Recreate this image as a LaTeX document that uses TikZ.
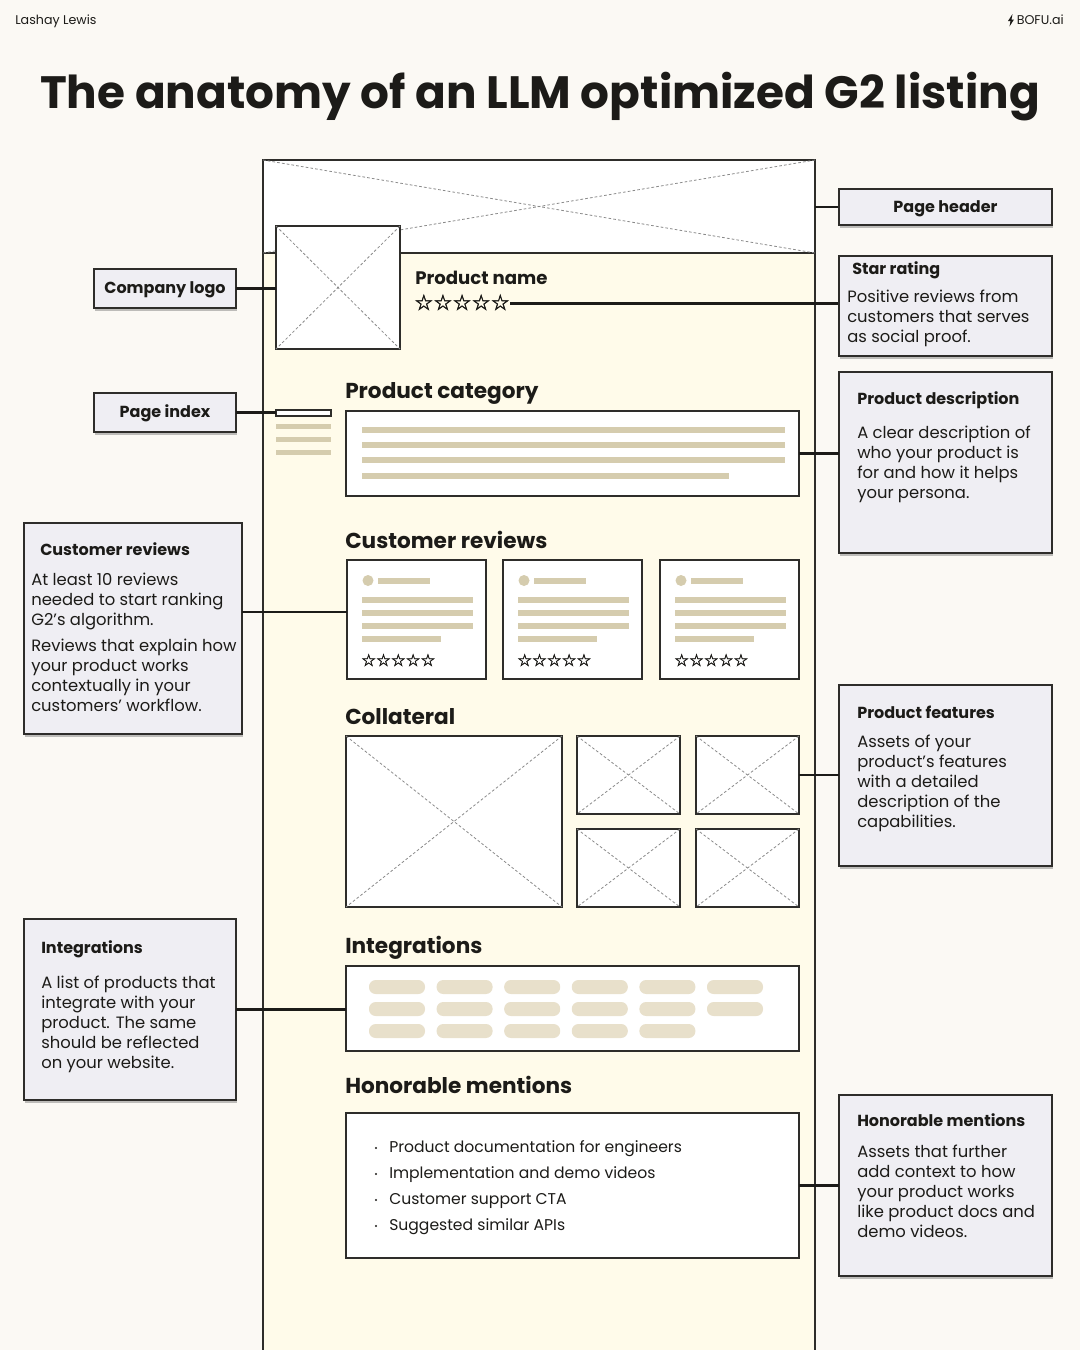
\documentclass[tikz,border=0pt]{standalone}
\usepackage{fontspec}
\setmainfont{Poppins}
\newfontfamily\symfont[FakeBold=2.2]{DejaVu Sans}
\usetikzlibrary{shadows}
\definecolor{bg}{HTML}{FBF9F4}
\definecolor{pagebg}{HTML}{FFFBEA}
\definecolor{callbg}{HTML}{EFEEF3}
\definecolor{tanbar}{HTML}{D5CCAE}
\definecolor{pillc}{HTML}{E8E0CB}
\definecolor{ink}{HTML}{1C1B18}
\definecolor{edge}{HTML}{2E2D2A}
\definecolor{xgray}{HTML}{8A8A8A}
\newcommand\pbox[6]{\node[#2, anchor=north west, minimum width={(#5-#3)*0.75pt}, minimum height={(#6-#4)*0.75pt}] (#1) at (#3,#4) {};}
\newcommand\xcross[1]{\draw[xline] (#1.north west) -- (#1.south east) (#1.north east) -- (#1.south west);}
\newcommand\tlines[6]{\foreach \l [count=\i] in {#6} {\node[#2, anchor=base west] (#1\i) at (#3,{#4+(\i-1)*#5}) {\l};}}
\tikzset{
  wbox/.style={draw=edge, fill=white, line width=1pt, inner sep=0pt, outer sep=0pt},
  callout/.style={draw=edge, fill=callbg, line width=1pt, inner sep=0pt, outer sep=0pt,
     drop shadow={shadow xshift=0.6pt, shadow yshift=-2pt, opacity=0.35, fill=black!70}},
  xline/.style={draw=xgray, dash pattern=on 2pt off 1.6pt, line width=0.6pt},
  conn/.style={draw=ink, line width=2pt},
  ctitle/.style={font=\fontsize{12}{14}\selectfont\bfseries, text=ink, inner sep=0pt},
  cbody/.style={font=\fontsize{12.3}{15}\selectfont, text=ink, inner sep=0pt},
  head/.style={font=\fontsize{16.2}{20}\selectfont\bfseries, text=ink, inner sep=0pt},
  small/.style={font=\fontsize{9.5}{11}\selectfont, text=ink, inner sep=0pt},
  stars/.style={font=\symfont\fontsize{12.4}{13}\selectfont, text=ink, inner sep=0pt},
  listtxt/.style={font=\fontsize{11.7}{14}\selectfont, text=ink, inner sep=0pt},
}
\begin{document}
\begin{tikzpicture}[x=0.75pt,y=-0.75pt]
\useasboundingbox (0,0) rectangle (1080,1350);
\fill[bg] (0,0) rectangle (1080,1350);

% top texts
\node[small, anchor=base west] (author) at (15,24) {Lashay Lewis};
\node[small, anchor=base east] (brand) at (1064,24) {BOFU.ai};
\fill[ink] (1008,21) -- (1012.5,14) -- (1011.5,19.5) -- (1014,19.5) -- (1009.5,26.5) -- (1010.5,21) -- cycle;

% title
\node[font=\fontsize{34}{40}\selectfont\bfseries, text=ink, inner sep=0pt, anchor=center] (title) at (540,97) {The anatomy of an LLM optimized G2 listing};

% page frame
\pbox{page}{draw=edge, fill=pagebg, line width=1pt, inner sep=0pt, outer sep=0pt}{263}{160}{815}{1360}
\pbox{hdr}{wbox}{263}{160}{815}{253}
\xcross{hdr}

% logo
\pbox{logo}{wbox}{276}{226}{400}{349}
\xcross{logo}

% product name
\node[font=\fontsize{13.6}{16}\selectfont\bfseries, text=ink, inner sep=0pt, anchor=base west] (pname) at (415,284) {Product name};
\node[stars, font=\symfont\fontsize{16}{17}\selectfont, anchor=base west] (pstars) at (414,310) {☆☆☆☆☆};

% page index
\pbox{idx}{draw=edge, fill=white, line width=0.8pt, inner sep=0pt, outer sep=0pt}{276}{410}{331}{416}
\foreach \yy in {424,437,450} \fill[tanbar] (276,\yy) rectangle (331,\yy+5);

% product category
\node[head, anchor=base west] (hcat) at (345,398) {Product category};
\pbox{cat}{wbox}{346}{411}{799}{496}
\foreach \yy in {427,442,457} \fill[tanbar] (362,\yy) rectangle (785,\yy+6);
\fill[tanbar] (362,473) rectangle (729,479);

% customer reviews
\node[head, anchor=base west] (hrev) at (345,548) {Customer reviews};
\foreach \xx [count=\k] in {347,503,660} {
  \pbox{rev\k}{wbox}{\xx}{560}{\xx+139}{679}
  \fill[tanbar] (\xx+21,580.5) circle (5.5);
  \fill[tanbar] (\xx+31,578) rectangle (\xx+83,584);
  \foreach \yy in {597,610,623} \fill[tanbar] (\xx+15,\yy) rectangle (\xx+126,\yy+6);
  \fill[tanbar] (\xx+15,636) rectangle (\xx+94,642);
  \node[stars, anchor=base west] (rs\k) at (\xx+14,666) {☆☆☆☆☆};
}

% collateral
\node[head, anchor=base west] (hcol) at (345,724) {Collateral};
\pbox{col0}{wbox}{346}{736}{562}{907}
\pbox{col1}{wbox}{577}{736}{680}{814}
\pbox{col2}{wbox}{696}{736}{799}{814}
\pbox{col3}{wbox}{577}{829}{680}{907}
\pbox{col4}{wbox}{696}{829}{799}{907}
\foreach \c in {col0,col1,col2,col3,col4} {\xcross{\c}}

% integrations
\node[head, anchor=base west] (hint) at (345,953) {Integrations};
\pbox{intbox}{wbox}{346}{966}{799}{1051}
\foreach \yy/\n in {987/6,1009/6,1031/5} {
  \foreach \j in {1,...,\n} {
    \fill[pillc, rounded corners=5pt] ({369+(\j-1)*67.6},\yy-7) rectangle ({425+(\j-1)*67.6},\yy+7);
  }
}

% honorable mentions
\node[head, anchor=base west] (hhon) at (345,1093) {Honorable mentions};
\pbox{honbox}{wbox}{346}{1113}{799}{1258}
\foreach \t [count=\i] in {Product documentation for engineers, Implementation and demo videos, Customer support CTA, Suggested similar APIs} {
  \node[listtxt, anchor=base west] (hl\i) at (389,{1152+(\i-1)*26}) {\t};
  \fill[ink] (376,{1148+(\i-1)*26}) circle (1.2);
}

% connectors
\coordinate (crl) at ([yshift=5.6pt]rev1.west);
\draw[conn] (hdr.east |- 0,207) -- (839,207);
\pbox{cphdr}{callout}{839}{189}{1052}{225}
\draw[conn] ([yshift=-1pt]pstars.east) -- ([yshift=-1pt]pstars.east -| 839,0);
\pbox{cstar}{callout}{839}{256}{1052}{356}
\pbox{ccl}{callout}{94}{269}{236}{308}
\draw[conn] (ccl.east) -- (ccl.east -| logo.west);
\pbox{cpi}{callout}{94}{393}{236}{432}
\draw[conn] (cpi.east) -- (cpi.east -| idx.west);
\pbox{cdesc}{callout}{839}{372}{1052}{553}
\draw[conn] (cat.east) -- (cat.east -| cdesc.west);
\pbox{ccr}{callout}{24}{523}{242}{734}
\draw[conn] (crl -| ccr.east) -- (crl);
\pbox{cfeat}{callout}{839}{685}{1052}{866}
\draw[conn] (col2.east) -- (col2.east -| cfeat.west);
\pbox{cint}{callout}{24}{919}{236}{1100}
\draw[conn] (cint.east) -- (cint.east -| intbox.west);
\pbox{chon}{callout}{839}{1095}{1052}{1276}
\draw[conn] (honbox.east) -- (honbox.east -| chon.west);

% callout texts
\node[ctitle, anchor=base] (tphdr) at ([yshift=-4pt]cphdr.center) {Page header};
\node[ctitle, anchor=base] (tcl) at ([yshift=-4pt]ccl.center) {Company logo};
\node[ctitle, anchor=base] (tpi) at ([yshift=-4pt]cpi.center) {Page index};

\node[ctitle, anchor=base west] (tstar) at (852,274) {Star rating};
\tlines{bstar}{cbody}{847}{302}{20}{Positive reviews from, customers that serves, as social proof.}

\node[ctitle, anchor=base west] (tdesc) at (857,404) {Product description};
\tlines{bdesc}{cbody}{857}{438}{20}{A clear description of, who your product is, for and how it helps, your persona.}

\node[ctitle, anchor=base west] (tfeat) at (857,718) {Product features};
\tlines{bfeat}{cbody}{857}{747}{20}{Assets of your, product’s features, with a detailed, description of the, capabilities.}

\node[ctitle, anchor=base west] (thon) at (857,1126) {Honorable mentions};
\tlines{bhon}{cbody}{857}{1157}{20}{Assets that further, add context to how, your product works, like product docs and, demo videos.}

\node[ctitle, anchor=base west] (tcr) at (40,555) {Customer reviews};
\tlines{bcra}{cbody}{31}{585}{20}{At least 10 reviews, needed to start ranking, G2’s algorithm.}
\tlines{bcrb}{cbody}{31}{651}{20}{Reviews that explain how, your product works, contextually in your, customers’ workflow.}

\node[ctitle, anchor=base west] (tint) at (41,953) {Integrations};
\tlines{bint}{cbody}{41}{988}{20}{A list of products that, integrate with your, product. The same, should be reflected, on your website.}
\end{tikzpicture}
\end{document}
